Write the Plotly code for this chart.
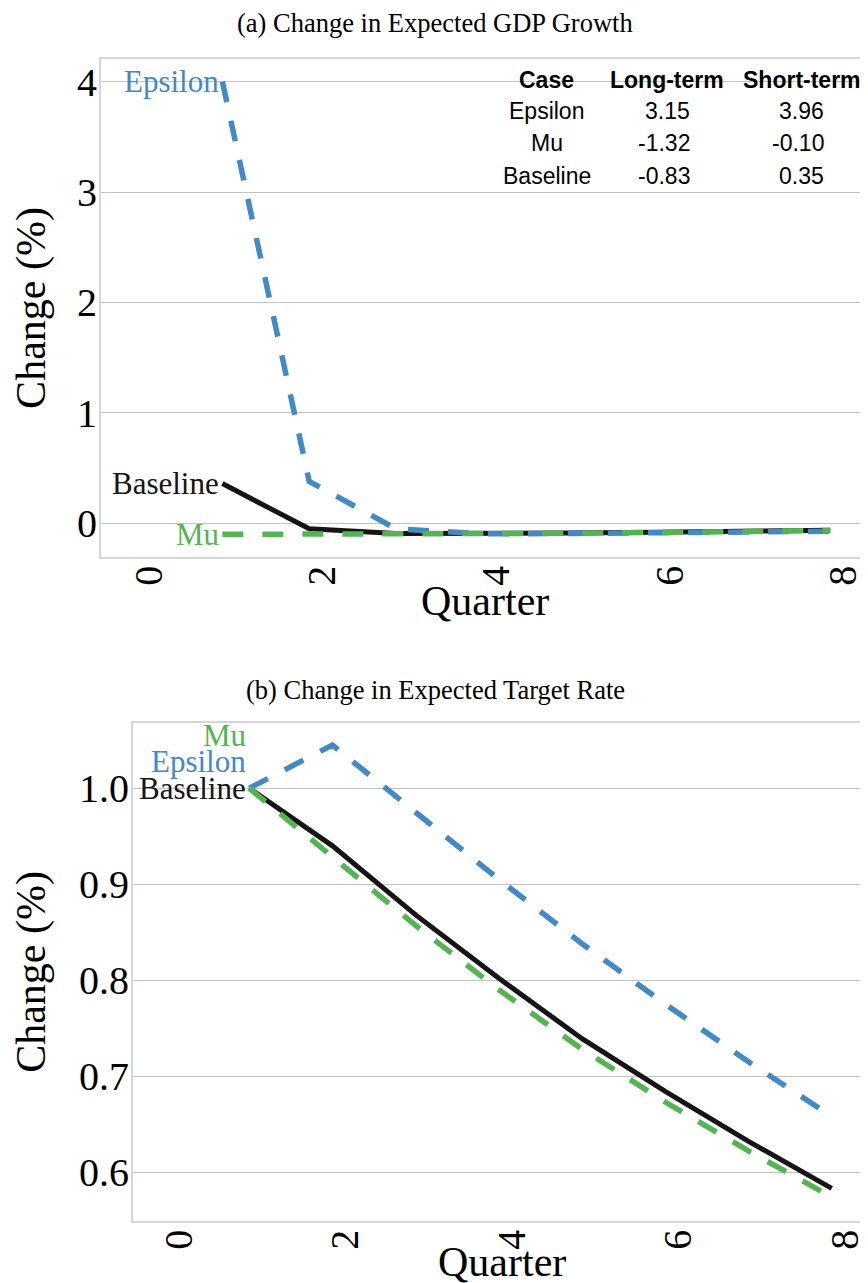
import plotly.graph_objects as go

# ---------------- data ----------------
quarters = [1, 2, 3, 4, 5, 6, 7, 8]

gdp_epsilon = [4.0, 0.38, -0.05, -0.095, -0.092, -0.087, -0.080, -0.072]
gdp_mu = [-0.10, -0.10, -0.10, -0.097, -0.090, -0.082, -0.074, -0.065]
gdp_baseline = [0.36, -0.05, -0.092, -0.092, -0.088, -0.080, -0.072, -0.063]

rate_epsilon = [1.0, 1.045, 0.975, 0.905, 0.838, 0.775, 0.715, 0.658]
rate_mu = [1.0, 0.928, 0.857, 0.790, 0.728, 0.673, 0.622, 0.574]
rate_baseline = [1.0, 0.940, 0.868, 0.802, 0.739, 0.684, 0.632, 0.583]

x_ticks = [0, 2, 4, 6, 8]
gdp_y_ticks = [0, 1, 2, 3, 4]
rate_y_ticks = [0.6, 0.7, 0.8, 0.9, 1.0]

table_header = ["Case", "Long-term", "Short-term"]
table_cases = ["Epsilon", "Mu", "Baseline"]
table_long = ["3.15", "-1.32", "-0.83"]
table_short = ["3.96", "-0.10", "0.35"]

panel_titles = ["(a) Change in Expected GDP Growth", "(b) Change in Expected Target Rate"]
x_title = "Quarter"
y_title = "Change (%)"

# ---------------- styling ----------------
OFF = 8                      # page body margin
W, H = 860, 1275             # figure size (fits the window with the margin)
BLUE = "#4389c5"
GREEN = "#55b452"
BLACK = "#151515"
SERIF = "Liberation Serif, Times New Roman, serif"
SANS = "Liberation Sans, Arial, sans-serif"
DASH = "21px,19px"

fig = go.Figure()


def add_line(x, y, color, dash, xa, ya, name, width):
    fig.add_trace(go.Scatter(
        x=x, y=y, mode="lines", name=name, showlegend=False,
        line=dict(color=color, width=width, dash=dash),
        xaxis=xa, yaxis=ya,
    ))


add_line(quarters, gdp_baseline, BLACK, "solid", "x", "y", "Baseline", 5)
add_line(quarters, gdp_epsilon, BLUE, DASH, "x", "y", "Epsilon", 5.5)
add_line(quarters, gdp_mu, GREEN, DASH, "x", "y", "Mu", 5.5)

add_line(quarters, rate_baseline, BLACK, "solid", "x2", "y2", "Baseline", 5)
add_line(quarters, rate_epsilon, BLUE, DASH, "x2", "y2", "Epsilon", 5.5)
add_line(quarters, rate_mu, GREEN, DASH, "x2", "y2", "Mu", 5.5)


def px_x(p):
    return (p - OFF) / W


def px_y(p):
    return 1 - (p - OFF) / H


frame = dict(showline=True, mirror=True, linecolor="#d6d6d6", linewidth=1.5,
             ticks="", zeroline=False)

xcommon = dict(range=[-0.4, 8.4], tickvals=x_ticks, ticktext=[str(t) for t in x_ticks],
               tickangle=-90, showgrid=False,
               tickfont=dict(family=SERIF, size=40, color="black"),
               ticklabelshift=13, ticklabelstandoff=-9, ticklabeloverflow="allow",
               **frame)

ycommon = dict(showgrid=True, gridcolor="#c2c2c2", gridwidth=1.2,
               tickfont=dict(family=SERIF, size=40, color="black"),
               ticklabelstandoff=-6, ticklabeloverflow="allow",
               title=dict(text=y_title, font=dict(family=SERIF, size=42, color="black"),
                          standoff=28),
               **frame)

fig.update_layout(
    width=W, height=H,
    margin=dict(l=0, r=0, t=0, b=0),
    paper_bgcolor="white", plot_bgcolor="white",
    xaxis=dict(domain=[px_x(101), px_x(867)], anchor="y", **xcommon),
    yaxis=dict(domain=[px_y(557), px_y(59)], anchor="x", range=[-0.305, 4.205],
               tickvals=gdp_y_ticks, ticktext=[str(t) for t in gdp_y_ticks], **ycommon),
    xaxis2=dict(domain=[px_x(133), px_x(867)], anchor="y2", **xcommon),
    yaxis2=dict(domain=[px_y(1221), px_y(723)], anchor="x2", range=[0.549, 1.068],
                tickvals=rate_y_ticks, ticktext=["%.1f" % t for t in rate_y_ticks], **ycommon),
)

ann = []
# panel titles
for t, yy in zip(panel_titles, [23, 690]):
    ann.append(dict(text=t, xref="paper", yref="paper", x=px_x(436), y=px_y(yy),
                    showarrow=False, font=dict(family=SERIF, size=26.5, color="black"),
                    xanchor="center", yanchor="middle"))

# x axis titles
for cx, yy in zip([486, 503], [601, 1262]):
    ann.append(dict(text=x_title, xref="paper", yref="paper", x=px_x(cx), y=px_y(yy),
                    showarrow=False, font=dict(family=SERIF, size=42, color="black"),
                    xanchor="center", yanchor="middle"))

# series labels, panel (a)
lab_font = 31
ann.append(dict(text="Epsilon", xref="x", yref="y", x=quarters[0], y=gdp_epsilon[0],
                xanchor="right", yanchor="middle", showarrow=False, xshift=-1,
                font=dict(family=SERIF, size=lab_font, color=BLUE)))
ann.append(dict(text="Baseline", xref="x", yref="y", x=quarters[0], y=gdp_baseline[0],
                xanchor="right", yanchor="middle", showarrow=False, xshift=-1,
                font=dict(family=SERIF, size=lab_font, color=BLACK)))
ann.append(dict(text="Mu", xref="x", yref="y", x=quarters[0], y=gdp_mu[0],
                xanchor="right", yanchor="middle", showarrow=False, xshift=-1,
                font=dict(family=SERIF, size=lab_font, color=GREEN)))

# series labels, panel (b)
ann.append(dict(text="Baseline", xref="x2", yref="y2", x=quarters[0], y=rate_baseline[0],
                xanchor="right", yanchor="middle", showarrow=False, xshift=-1,
                font=dict(family=SERIF, size=lab_font, color=BLACK)))
ann.append(dict(text="Epsilon", xref="x2", yref="y2", x=quarters[0], y=rate_epsilon[0],
                xanchor="right", yanchor="middle", showarrow=False, xshift=-1, yshift=27,
                font=dict(family=SERIF, size=lab_font, color=BLUE)))
ann.append(dict(text="Mu", xref="x2", yref="y2", x=quarters[0], y=rate_mu[0],
                xanchor="right", yanchor="middle", showarrow=False, xshift=-1, yshift=53,
                font=dict(family=SERIF, size=lab_font, color=GREEN)))

# table in panel (a)
tfont = 23
hdr_x = [548, 669, 804]
for txt, cx in zip(table_header, hdr_x):
    ann.append(dict(text="<b>%s</b>" % txt, xref="paper", yref="paper", x=px_x(cx), y=px_y(80),
                    xanchor="center", yanchor="middle", showarrow=False,
                    font=dict(family=SANS, size=tfont, color="black")))
row_y = [111, 143, 176]
for case, lt, st, ry in zip(table_cases, table_long, table_short, row_y):
    ann.append(dict(text=case, xref="paper", yref="paper", x=px_x(548), y=px_y(ry),
                    xanchor="center", yanchor="middle", showarrow=False,
                    font=dict(family=SANS, size=tfont, color="black")))
    ann.append(dict(text=lt, xref="paper", yref="paper", x=px_x(694), y=px_y(ry),
                    xanchor="right", yanchor="middle", showarrow=False,
                    font=dict(family=SANS, size=tfont, color="black")))
    ann.append(dict(text=st, xref="paper", yref="paper", x=px_x(828), y=px_y(ry),
                    xanchor="right", yanchor="middle", showarrow=False,
                    font=dict(family=SANS, size=tfont, color="black")))

fig.update_layout(annotations=ann)

fig.write_html("out.html")
